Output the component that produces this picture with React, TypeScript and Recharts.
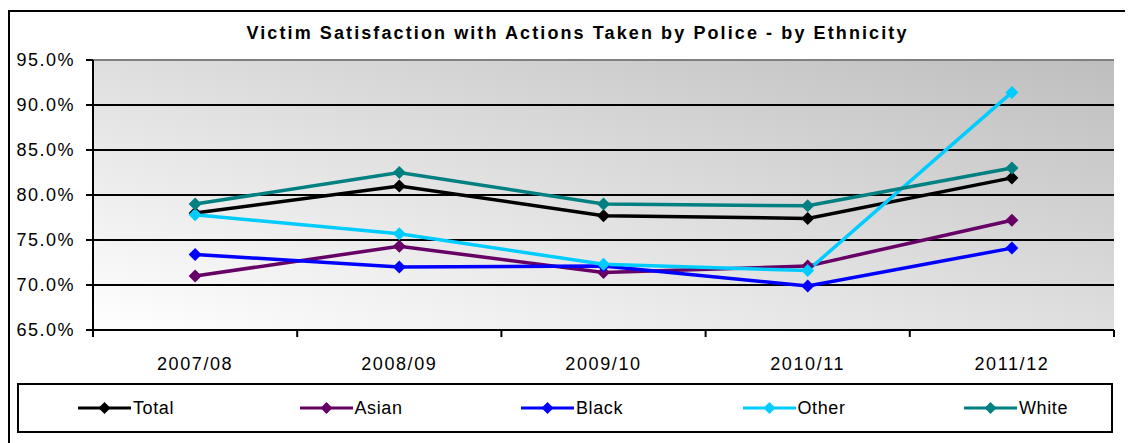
import React from 'react';
import { LineChart, Line, XAxis, YAxis, CartesianGrid, Legend, ReferenceLine } from 'recharts';

const periods = ['2007/08', '2008/09', '2009/10', '2010/11', '2011/12'];
const total = [78.0, 81.0, 77.7, 77.4, 81.9];
const asian = [71.0, 74.3, 71.4, 72.1, 77.2];
const black = [73.4, 72.0, 72.1, 69.9, 74.1];
const other = [77.8, 75.7, 72.3, 71.6, 91.4];
const white = [79.0, 82.5, 79.0, 78.8, 83.0];
const yTicks = [65, 70, 75, 80, 85, 90, 95];

const series = [
  { key: 'total', name: 'Total', color: '#000000' },
  { key: 'asian', name: 'Asian', color: '#660066' },
  { key: 'black', name: 'Black', color: '#0000FF' },
  { key: 'other', name: 'Other', color: '#00CCFF' },
  { key: 'white', name: 'White', color: '#008080' },
];

const chartData = periods.map((period, i) => ({
  period,
  total: total[i],
  asian: asian[i],
  black: black[i],
  other: other[i],
  white: white[i],
}));

const FONT = 'Arial, "Liberation Sans", sans-serif';

const Diamond = ({ cx, cy, color, r = 6.5 }) => {
  if (cx == null || cy == null) return null;
  return <path d={`M${cx},${cy - r}L${cx + r},${cy}L${cx},${cy + r}L${cx - r},${cy}Z`} fill={color} />;
};

// category labels in the middle, tick marks on the category boundaries (excel style)
const XTick = (props) => {
  const { x, y, payload, index, width, visibleTicksCount } = props;
  const bw = width && visibleTicksCount ? width / visibleTicksCount : 1021 / 5;
  const last = index === (visibleTicksCount || 5) - 1;
  return (
    <g>
      <line x1={x - bw / 2} x2={x - bw / 2} y1={y} y2={y + 7} stroke="#000" strokeWidth={2} />
      {last && <line x1={x + bw / 2} x2={x + bw / 2} y1={y} y2={y + 7} stroke="#000" strokeWidth={2} />}
      <text x={x} y={y + 40} textAnchor="middle" fontSize={18} fontFamily={FONT} letterSpacing={1.6} fill="#000">
        {payload.value}
      </text>
    </g>
  );
};

const renderLegend = () => (
  <div
    style={{
      position: 'relative',
      height: 50,
      width: 1096,
      border: '2px solid #000',
      boxSizing: 'border-box',
      background: '#fff',
      fontFamily: FONT,
    }}
  >
    {series.map((s, i) => (
      <div
        key={s.key}
        style={{
          position: 'absolute',
          left: 59 + i * 221.5,
          top: 0,
          bottom: 0,
          display: 'flex',
          alignItems: 'center',
        }}
      >
        <svg width={53} height={14}>
          <line x1={0} x2={53} y1={7} y2={7} stroke={s.color} strokeWidth={3} />
          <Diamond cx={26.5} cy={7} color={s.color} r={6} />
        </svg>
        <span style={{ fontSize: 18, letterSpacing: 0.6, marginLeft: 2, color: '#000' }}>{s.name}</span>
      </div>
    ))}
  </div>
);

export default function App() {
  return (
    <div style={{ position: 'relative', marginTop: 2, width: 1200, height: 433, borderTop: '2px solid #000', borderLeft: '2px solid #000' }}>
      <style>{'html,body{overflow:hidden}'}</style>
      <div
        style={{
          position: 'absolute',
          left: 6,
          top: 11,
          width: 1123,
          textAlign: 'center',
          fontFamily: FONT,
          fontWeight: 'bold',
          fontSize: 18,
          lineHeight: '20px',
          letterSpacing: 2.1,
          zIndex: 1,
        }}
      >
        Victim Satisfaction with Actions Taken by Police - by Ethnicity
      </div>
      <LineChart width={1123} height={431} data={chartData} margin={{ top: 48, right: 19, left: 0, bottom: 10 }}>
        <defs>
          <linearGradient id="plotBg" x1="0" y1="1" x2="1" y2="0">
            <stop offset="0%" stopColor="#ffffff" />
            <stop offset="100%" stopColor="#bebebe" />
          </linearGradient>
        </defs>
        <CartesianGrid vertical={false} fill="url(#plotBg)" fillOpacity={1} stroke="#000" strokeWidth={2} />
        <XAxis
          dataKey="period"
          scale="band"
          height={53}
          axisLine={{ stroke: '#000', strokeWidth: 2 }}
          tickLine={false}
          tickSize={0}
          tickMargin={0}
          tick={<XTick />}
          interval={0}
        />
        <YAxis
          width={83}
          domain={[65, 95]}
          ticks={yTicks}
          tickFormatter={(v) => `${v.toFixed(1)}%`}
          axisLine={{ stroke: '#000', strokeWidth: 2 }}
          tickLine={{ stroke: '#000', strokeWidth: 2 }}
          tickSize={7}
          tickMargin={11}
          tick={{ fontSize: 18, fill: '#000', fontFamily: FONT, letterSpacing: 1.5 }}
          allowDataOverflow
        />
        <YAxis
          yAxisId="right"
          orientation="right"
          width={0}
          domain={[65, 95]}
          tick={false}
          tickLine={false}
          axisLine={{ stroke: '#808080', strokeWidth: 2 }}
        />
        <ReferenceLine y={95} stroke="#808080" strokeWidth={2} />
        <Legend verticalAlign="bottom" align="left" height={50} width={1096} wrapperStyle={{ left: 7, bottom: 10 }} content={renderLegend} />
        {series.map((s) => (
          <Line
            key={s.key}
            dataKey={s.key}
            name={s.name}
            stroke={s.color}
            strokeWidth={3.5}
            isAnimationActive={false}
            dot={(p) => <Diamond key={`${s.key}-${p.index}`} cx={p.cx} cy={p.cy} color={s.color} />}
            activeDot={false}
          />
        ))}
      </LineChart>
    </div>
  );
}
